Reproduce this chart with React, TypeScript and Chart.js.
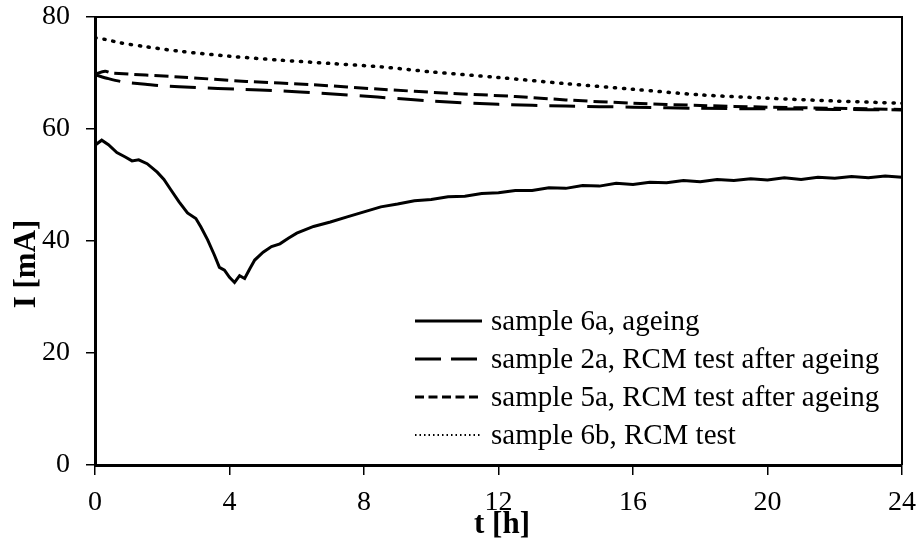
import React, { useEffect, useRef } from "react";
import { Chart, registerables } from "chart.js";

Chart.register(...registerables);

const xTicks = [0, 4, 8, 12, 16, 20, 24];
const yTicks = [0, 20, 40, 60, 80];
const xTitle = "t [h]";
const yTitle = "I [mA]";

const labels = [
  "sample 6a, ageing",
  "sample 2a, RCM test after ageing",
  "sample 5a, RCM test after ageing",
  "sample 6b, RCM test",
];

const t6a = [0, 0.2, 0.4, 0.65, 0.9, 1.1, 1.3, 1.55, 1.85, 2.05, 2.25, 2.5, 2.75, 3.0, 3.15, 3.35, 3.55, 3.7, 3.85, 4.0, 4.15, 4.3, 4.45, 4.6, 4.75, 5.0, 5.25, 5.5, 5.75, 6.0, 6.5, 7.0, 7.5, 8.0, 8.5, 9, 9.5, 10, 10.5, 11, 11.5, 12, 12.5, 13, 13.5, 14, 14.5, 15, 15.5, 16, 16.5, 17, 17.5, 18, 18.5, 19, 19.5, 20, 20.5, 21, 21.5, 22, 22.5, 23, 23.5, 24];
const i6a = [57.1, 58.0, 57.2, 55.8, 55.0, 54.3, 54.5, 53.8, 52.3, 51.0, 49.2, 47.0, 45.0, 44.0, 42.5, 40.2, 37.5, 35.3, 34.8, 33.5, 32.6, 33.8, 33.3, 35.0, 36.6, 38.0, 39.0, 39.5, 40.5, 41.4, 42.6, 43.4, 44.3, 45.2, 46.1, 46.6, 47.2, 47.4, 47.9, 48.0, 48.5, 48.6, 49.0, 49.0, 49.5, 49.4, 49.9, 49.8, 50.3, 50.1, 50.5, 50.4, 50.8, 50.6, 51.0, 50.8, 51.1, 50.9, 51.3, 51.0, 51.4, 51.2, 51.5, 51.3, 51.6, 51.4];

const t2a = [0, 0.4, 0.85, 1.5, 2, 3, 4.3, 5.5, 6.7, 8.4, 10, 12, 14, 16, 18, 20, 22, 24];
const i2a = [69.7, 69.0, 68.4, 68.0, 67.7, 67.4, 67.1, 66.8, 66.4, 65.7, 65.0, 64.4, 64.1, 63.9, 63.7, 63.6, 63.5, 63.4];

const t5a = [0, 0.3, 0.5, 2.5, 4.5, 6.5, 8.5, 10.5, 12.5, 14, 16, 18, 20, 22, 24];
const i5a = [69.8, 70.3, 70.0, 69.3, 68.5, 67.9, 67.1, 66.4, 65.8, 65.2, 64.6, 64.2, 63.9, 63.7, 63.5];

const t6b = [0, 0.3, 0.75, 1.5, 2.5, 4, 5.5, 7, 8.5, 10, 12, 14, 16, 18, 20, 22, 24];
const i6b = [76.3, 76.0, 75.4, 74.7, 73.9, 73.0, 72.3, 71.7, 71.1, 70.2, 69.2, 68.1, 67.1, 66.1, 65.5, 65.0, 64.6];

const toPts = (t: number[], v: number[]) => t.map((x, k) => ({ x, y: v[k] }));

const FONT = "'Liberation Serif', 'Times New Roman', serif";

const decorPlugin = {
  id: "decor",
  afterDatasetsDraw(chart: any) {
    const ctx = chart.ctx;
    const area = chart.chartArea;
    // frame (top and right)
    ctx.save();
    ctx.strokeStyle = "#000";
    ctx.lineWidth = 2;
    ctx.beginPath();
    ctx.moveTo(area.left, area.top);
    ctx.lineTo(area.right, area.top);
    ctx.lineTo(area.right, area.bottom);
    ctx.stroke();
    ctx.restore();

    // axis titles
    ctx.save();
    ctx.fillStyle = "#000";
    ctx.font = `bold 31px ${FONT}`;
    ctx.textAlign = "center";
    ctx.textBaseline = "middle";
    ctx.fillText(xTitle, 502, 525);
    ctx.translate(27, 264);
    ctx.rotate(-Math.PI / 2);
    ctx.fillText(yTitle, 0, 0);
    ctx.restore();

    // legend
    const x0 = area.left + 320;
    const x1 = x0 + 67;
    const rows = [321, 359, 397, 435];
    const dashes = [[], [26, 10], [9, 4.5], [1.5, 3]];
    const widths = [3, 3, 3, 1.8];
    chart.data.datasets.forEach((ds: any, k: number) => {
      const y = rows[k];
      ctx.save();
      ctx.strokeStyle = "#000";
      ctx.lineWidth = widths[k];
      ctx.setLineDash(dashes[k]);
      ctx.beginPath();
      ctx.moveTo(x0, y);
      ctx.lineTo(x1, y);
      ctx.stroke();
      ctx.setLineDash([]);
      ctx.fillStyle = "#000";
      ctx.font = `29px ${FONT}`;
      ctx.textBaseline = "middle";
      ctx.textAlign = "left";
      ctx.fillText(ds.label, x1 + 9, y + 1);
      ctx.restore();
    });
  },
};

export default function App() {
  const ref = useRef<HTMLCanvasElement>(null);
  useEffect(() => {
    document.body.style.margin = "0";
    const canvas = ref.current!;
    const chart = new Chart(canvas, {
      type: "line",
      data: {
        datasets: [
          {
            label: labels[0],
            data: toPts(t6a, i6a),
            borderColor: "#000",
            borderWidth: 3,
            pointRadius: 0,
            tension: 0,
          },
          {
            label: labels[1],
            data: toPts(t2a, i2a),
            borderColor: "#000",
            borderWidth: 3,
            borderDash: [26, 12],
            pointRadius: 0,
            tension: 0.3,
          },
          {
            label: labels[2],
            data: toPts(t5a, i5a),
            borderColor: "#000",
            borderWidth: 3,
            borderDash: [14, 6],
            pointRadius: 0,
            tension: 0.3,
          },
          {
            label: labels[3],
            data: toPts(t6b, i6b),
            borderColor: "#000",
            borderWidth: 3.5,
            borderDash: [1.2, 7.8],
            borderCapStyle: "round",
            pointRadius: 0,
            tension: 0.3,
          },
        ],
      },
      options: {
        animation: false,
        responsive: false,
        maintainAspectRatio: false,
        layout: { padding: { top: 17, right: 17, left: 0, bottom: 0 } },
        plugins: {
          legend: { display: false },
          tooltip: { enabled: false },
        },
        scales: {
          x: {
            type: "linear",
            min: 0,
            max: 24,
            afterBuildTicks: (axis: any) => {
              axis.ticks = xTicks.map((v) => ({ value: v }));
            },
            afterFit: (axis: any) => {
              axis.height = 83;
              axis.paddingLeft = 0;
              axis.paddingRight = 0;
            },
            grid: {
              drawOnChartArea: false,
              drawTicks: true,
              tickLength: 10,
              color: "#000",
              lineWidth: 1.5,
            },
            border: { color: "#000", width: 3 },
            ticks: {
              color: "#000",
              font: { family: FONT, size: 28 },
              padding: 11,
              maxRotation: 0,
            },
          },
          y: {
            type: "linear",
            min: 0,
            max: 80,
            afterBuildTicks: (axis: any) => {
              axis.ticks = yTicks.map((v) => ({ value: v }));
            },
            afterFit: (axis: any) => {
              axis.width = 95;
              axis.paddingTop = 0;
              axis.paddingBottom = 0;
            },
            grid: {
              drawOnChartArea: false,
              drawTicks: true,
              tickLength: 9,
              color: "#000",
              lineWidth: 1.5,
            },
            border: { color: "#000", width: 3 },
            ticks: {
              color: "#000",
              font: { family: FONT, size: 28 },
              padding: 16,
            },
          },
        },
      } as any,
      plugins: [decorPlugin],
    });
    return () => chart.destroy();
  }, []);
  return (
    <div style={{ width: 919, height: 548, background: "#fff" }}>
      <canvas ref={ref} width={919} height={548} style={{ display: "block" }} />
    </div>
  );
}
